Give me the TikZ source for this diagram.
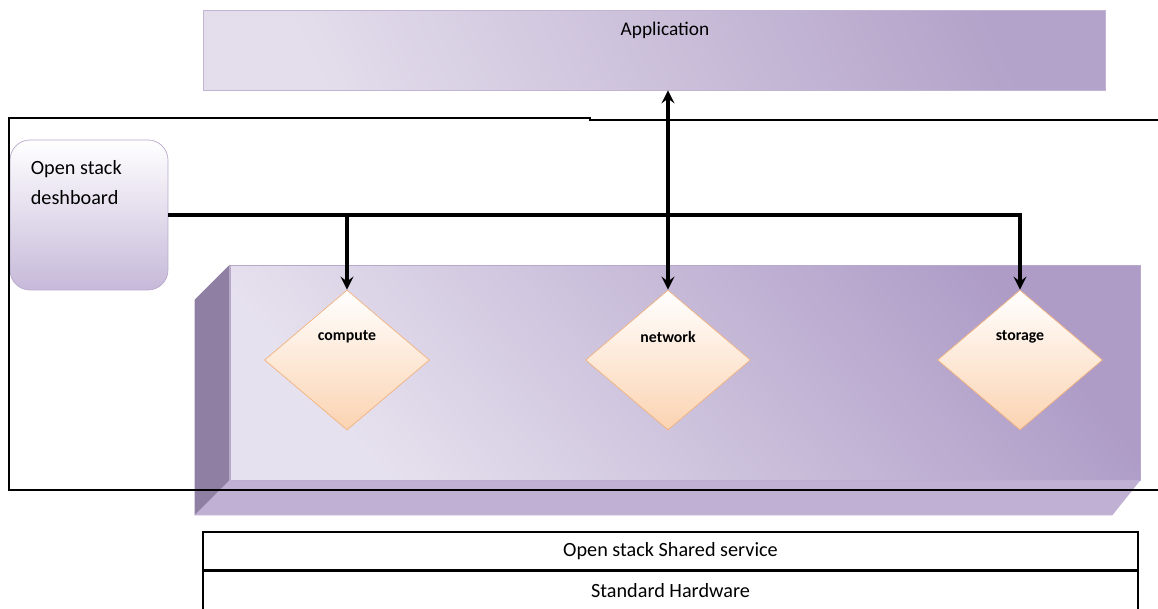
\documentclass[tikz,border=0pt]{standalone}
\usepackage{fontspec}
\setmainfont{Carlito}
\usepackage{tikz}
\usetikzlibrary{shapes,arrows,positioning,calc}

\definecolor{appdark}{HTML}{B3A2C9}
\definecolor{applight}{HTML}{E4DEEC}
\definecolor{boxdark}{HTML}{AE9CC7}
\definecolor{boxlight}{HTML}{E6E1EE}
\definecolor{sidecol}{HTML}{8E7FA3}
\definecolor{bottomcol}{HTML}{C0B1D4}
\definecolor{dshbot}{HTML}{C6B9D9}
\definecolor{dshline}{HTML}{B8A8CC}
\definecolor{peach}{HTML}{FBD3B1}
\definecolor{peachline}{HTML}{F2B27E}

\begin{document}
\begin{tikzpicture}[x=0.02cm, y=-0.02cm,
    layer/.style={draw=black, line width=0.9pt, minimum width=18.7cm, minimum height=0.76cm, font=\fontsize{11.5}{14}\selectfont},
    service/.style={diamond, draw=peachline, top color=white, bottom color=peach, minimum width=3.3cm, minimum height=2.8cm, inner sep=0pt},
    tag/.style={font=\fontsize{9}{10}\selectfont\bfseries},
    arrow/.style={->, line width=2.2pt, >=stealth}
]
    \useasboundingbox (0,0) rectangle (1158,608);

    % application layer on top
    \node[draw=appdark!80, minimum width=18.04cm, minimum height=1.6cm,
          left color=applight, right color=appdark, shading angle=115,
          label={[xshift=0.22cm, yshift=0.4cm, font=\fontsize{11}{13}\selectfont]center:Application}] (app) at (654,50) {};

    % 3d block holding the services
    \node[draw=dshline, minimum width=18.2cm, minimum height=4.3cm,
          left color=boxlight, right color=boxdark, shading angle=130] (front) at (685,372.5) {};
    \fill[sidecol] (front.north west) -- ++(-35,35) -- ($(front.south west)+(-35,35)$) -- (front.south west) -- cycle;
    \fill[bottomcol] (front.south west) -- (front.south east) -- ++(-28,35) -- ($(front.south west)+(-35,35)$) -- cycle;

    % dashboard
    \node[draw=dshline, rounded corners=0.4cm, minimum width=3.16cm, minimum height=3cm,
          top color=white, bottom color=dshbot,
          label={[anchor=north west, align=left, xshift=0.3cm, yshift=-0.3cm, font=\fontsize{11.5}{17}\selectfont]north west:Open stack\\deshboard}] (dash) at (89,215) {};

    % frame
    \draw[line width=0.8pt] (1158,120) -- (590,120) -- (590,118) -- (9,118) -- (9,490) -- (1158,490);

    % services
    \node[service, label={[tag, yshift=0.46cm]center:compute}] (compute) at (347,360) {};
    \node[service, label={[tag, yshift=0.46cm]center:network}] (network) at (668,360) {};
    \node[service, label={[tag, yshift=0.46cm]center:storage}] (storage) at (1020,360) {};

    % lower layers
    \node[layer] (shared) at (670.5,551) {Open stack Shared service};
    \node[layer, below=0pt of shared] (hw) {Standard Hardware};

    \draw[arrow] (dash.east) -| (compute.north);
    \draw[arrow] (dash.east) -| (storage.north);
    \draw[arrow, <->] (app.south -| network.north) -- (network.north);
\end{tikzpicture}
\end{document}
